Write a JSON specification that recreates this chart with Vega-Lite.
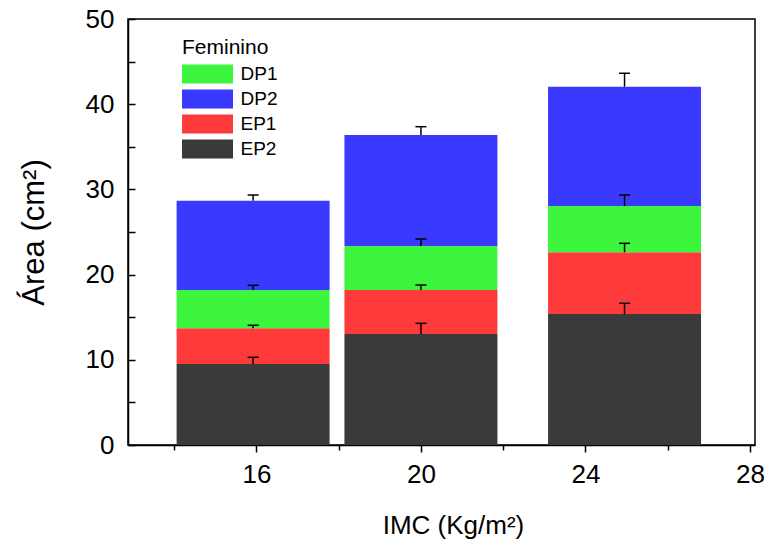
{
  "$schema": "https://vega.github.io/schema/vega-lite/v6.json",
  "width": 627,
  "height": 426,
  "autosize": {"type": "none"},
  "padding": {"left": 128, "top": 19, "right": 17, "bottom": 103},
  "background": "white",
  "config": {
    "font": "Liberation Sans",
    "view": {"stroke": "black", "strokeWidth": 1.5},
    "axis": {
      "domainColor": "black", "domainWidth": 1.5,
      "tickColor": "black", "tickWidth": 1.5,
      "labelColor": "black", "titleColor": "black",
      "labelFont": "Liberation Sans", "titleFont": "Liberation Sans",
      "labelFontSize": 26, "grid": false, "titleFontWeight": "normal"
    },
    "legend": {
      "labelFont": "Liberation Sans", "titleFont": "Liberation Sans",
      "labelColor": "black", "titleColor": "black"
    }
  },
  "data": {
    "values": [
      {"imc": 15.92, "grupo": "EP2", "inicio": 0, "fim": 9.51, "erro_sup": 10.29},
      {"imc": 15.92, "grupo": "EP1", "inicio": 9.51, "fim": 13.7, "erro_sup": 14.05},
      {"imc": 15.92, "grupo": "DP1", "inicio": 13.7, "fim": 18.19, "erro_sup": 18.74},
      {"imc": 15.92, "grupo": "DP2", "inicio": 18.19, "fim": 28.67, "erro_sup": 29.34},
      {"imc": 20.0, "grupo": "EP2", "inicio": 0, "fim": 13.03, "erro_sup": 14.28},
      {"imc": 20.0, "grupo": "EP1", "inicio": 13.03, "fim": 18.19, "erro_sup": 18.78},
      {"imc": 20.0, "grupo": "DP1", "inicio": 18.19, "fim": 23.36, "erro_sup": 24.18},
      {"imc": 20.0, "grupo": "DP2", "inicio": 23.36, "fim": 36.38, "erro_sup": 37.36},
      {"imc": 24.95, "grupo": "EP2", "inicio": 0, "fim": 15.38, "erro_sup": 16.63},
      {"imc": 24.95, "grupo": "EP1", "inicio": 15.38, "fim": 22.62, "erro_sup": 23.67},
      {"imc": 24.95, "grupo": "DP1", "inicio": 22.62, "fim": 28.05, "erro_sup": 29.34},
      {"imc": 24.95, "grupo": "DP2", "inicio": 28.05, "fim": 42.05, "erro_sup": 43.63}
    ]
  },
  "layer": [
    {
      "mark": {"type": "bar", "width": 153},
      "encoding": {
        "x": {
          "field": "imc", "type": "quantitative",
          "scale": {"domain": [13, 28], "nice": false, "zero": false},
          "axis": {
            "values": [14, 16, 18, 20, 22, 24, 26, 28],
            "labelExpr": "datum.value % 4 === 0 ? datum.label : ''",
            "tickSize": {"condition": {"test": "datum.value % 4 === 0", "value": 7}, "value": 5},
            "labelPadding": 9,
            "title": "IMC (Kg/m²)",
            "titleFontSize": 26,
            "titleX": 325, "titleY": 88,
            "titleBaseline": "alphabetic", "titleAlign": "center"
          }
        },
        "y": {
          "field": "inicio", "type": "quantitative",
          "scale": {"domain": [0, 50], "nice": false},
          "axis": {
            "values": [0, 5, 10, 15, 20, 25, 30, 35, 40, 45, 50],
            "labelExpr": "datum.value % 10 === 0 ? datum.label : ''",
            "tickSize": -7,
            "labelPadding": 21,
            "title": "Área (cm²)",
            "titleFontSize": 31,
            "titleX": -85, "titleY": 213, "titleAngle": 270,
            "titleBaseline": "alphabetic", "titleAlign": "center"
          }
        },
        "y2": {"field": "fim"},
        "color": {
          "field": "grupo", "type": "nominal",
          "scale": {"domain": ["DP1", "DP2", "EP1", "EP2"], "range": ["#3cf53c", "#3a3aff", "#ff3a3a", "#3a3a3a"]},
          "legend": {
            "title": "Feminino",
            "orient": "none", "legendX": 54, "legendY": 18,
            "padding": 0,
            "titleFontSize": 21, "titleFontWeight": "normal", "titlePadding": 6,
            "labelFontSize": 19, "labelOffset": 23,
            "symbolType": "M-2.55,-0.95H2.55V0.95H-2.55Z",
            "symbolSize": 400, "symbolOffset": 15.5, "symbolStrokeWidth": 0, "symbolOpacity": 1,
            "rowPadding": 5
          }
        }
      }
    },
    {
      "mark": {"type": "rule", "color": "black", "strokeWidth": 1.5},
      "encoding": {
        "x": {"field": "imc", "type": "quantitative"},
        "y": {"field": "fim", "type": "quantitative"},
        "y2": {"field": "erro_sup"}
      }
    },
    {
      "mark": {"type": "tick", "orient": "horizontal", "color": "black", "size": 11, "thickness": 1.5, "opacity": 1},
      "encoding": {
        "x": {"field": "imc", "type": "quantitative"},
        "y": {"field": "erro_sup", "type": "quantitative"}
      }
    }
  ]
}
